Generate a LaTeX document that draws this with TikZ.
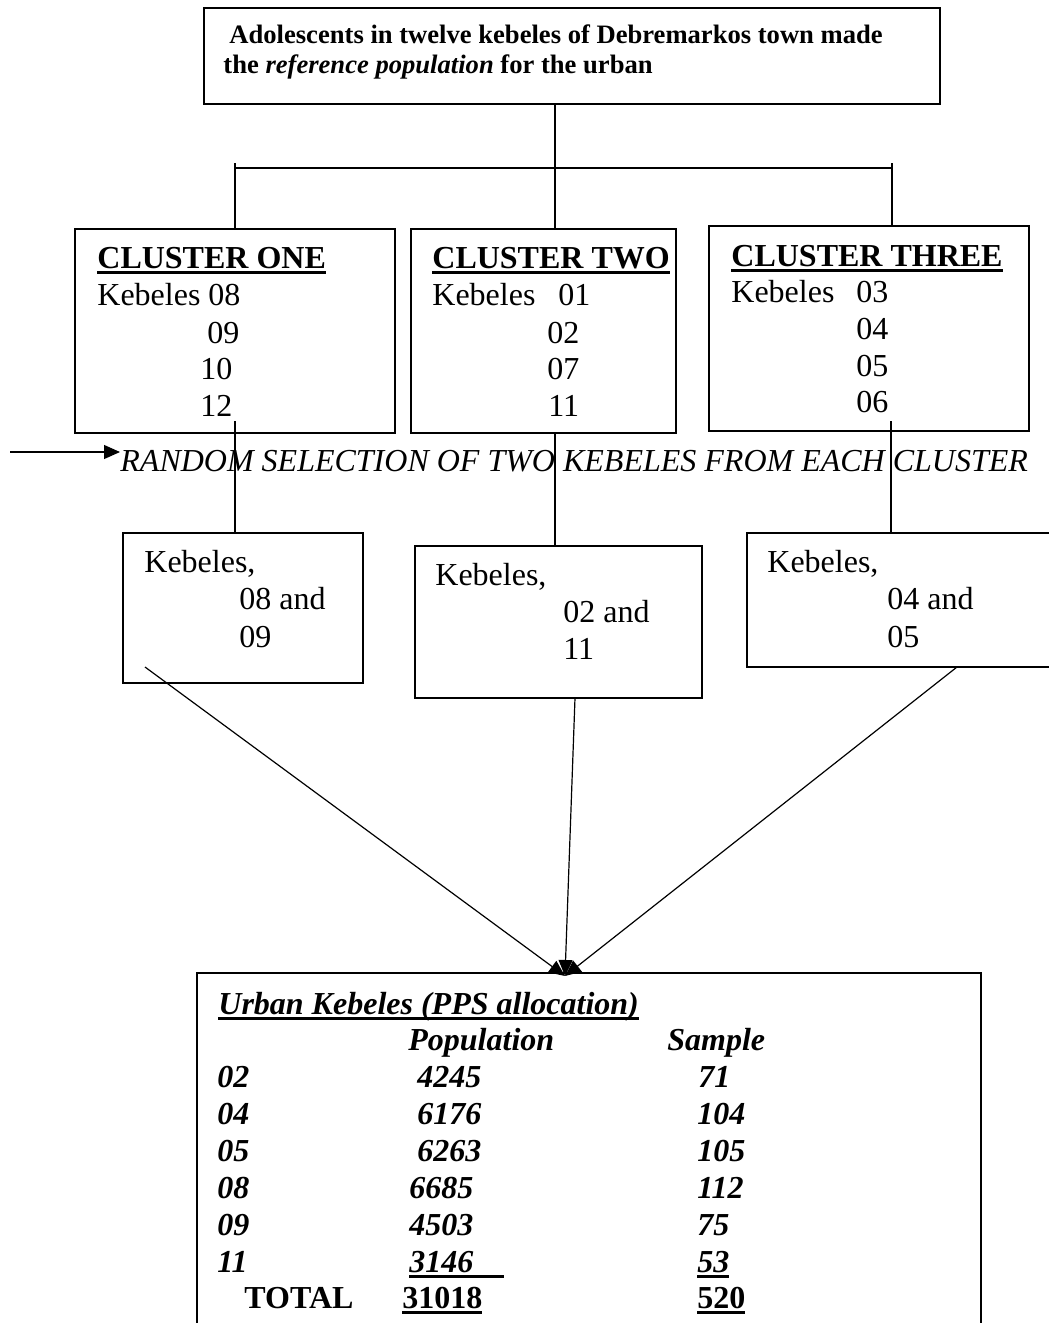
\documentclass[tikz,border=0pt]{standalone}
\usepackage{fontspec}
\setmainfont{Liberation Serif}
\usetikzlibrary{arrows.meta,positioning}
\newcommand{\uln}[2][0pt]{\setbox0\hbox{#2}\rlap{\vrule width \dimexpr\wd0+#1\relax height -1.5pt depth 3pt}\box0}

\begin{document}
\begin{tikzpicture}[x=0.5pt, y=-0.5pt]
    \tikzstyle{box}=[rectangle, draw=black, line width=0.7pt, inner sep=0pt]
    \tikzstyle{txt}=[anchor=base west, inner sep=0pt, font=\fontsize{16}{19}\selectfont]
    \tikzstyle{head}=[txt, font=\fontsize{16}{19}\selectfont\bfseries]
    \tikzstyle{cell}=[txt, font=\fontsize{16}{19}\selectfont\bfseries\itshape]
    \tikzstyle{line}=[line width=0.6pt]
    \tikzstyle{connect}=[-{Triangle[length=8pt, width=7pt]}, line width=0.6pt]
    \useasboundingbox (0,0) rectangle (1049,1323);
      % boxes
      \node[box, minimum width=368pt, minimum height=48pt] (top) at (572,56) {};
      \node[box, minimum width=160pt, minimum height=102pt] (c1) at (235,331) {};
      \node[box, minimum width=132.5pt, minimum height=102pt] (c2) at (543.5,331) {};
      \node[box, minimum width=160pt, minimum height=102.5pt] (c3) at (869,328.5) {};
      \node[box, minimum width=120pt, minimum height=75pt] (k1) at (243,608) {};
      \node[box, minimum width=143.5pt, minimum height=76pt] (k2) at (558.5,622) {};
      \node[box, minimum width=152pt, minimum height=67pt] (k3) at (899,600) {};
      \node[box, minimum width=392pt, minimum height=186pt] (alloc) at (589,1159) {};
      % top text
      \node[txt, font=\fontsize{13.3}{15}\selectfont\bfseries] (top1) at (229,43) {Adolescents in twelve kebeles of Debremarkos town made};
      \node[txt, font=\fontsize{13.3}{15}\selectfont\bfseries] (top2) at (223,73) {the \textit{reference population} for the urban};
      % clusters
      \node[head] (c1h) at (97,268) {\uln{CLUSTER ONE}};
      \node[txt] (c1a) at (97,305) {Kebeles 08};
      \node[txt] (c1b) at (207,343) {09};
      \node[txt] (c1c) at (200,379) {10};
      \node[txt] (c1d) at (200,416) {12};
      \node[head] (c2h) at (432,268) {\uln{CLUSTER TWO}};
      \node[txt] (c2a) at (432,305) {Kebeles\hspace{11.5pt}01};
      \node[txt] (c2b) at (547,343) {02};
      \node[txt] (c2c) at (547,379) {07};
      \node[txt] (c2d) at (548,416) {11};
      \node[head] (c3h) at (731,266) {\uln{CLUSTER THREE}};
      \node[txt] (c3a) at (731,302) {Kebeles\hspace{11pt}03};
      \node[txt] (c3b) at (856,339) {04};
      \node[txt] (c3c) at (856,376) {05};
      \node[txt] (c3d) at (856,412) {06};
      \node[txt, font=\fontsize{16}{19}\selectfont\itshape] (rnd) at (120,471) {RANDOM SELECTION OF TWO KEBELES FROM EACH CLUSTER};
      % selected kebeles
      \node[txt] (k1a) at (144,572) {Kebeles,};
      \node[txt] (k1b) at (239,609) {08 and};
      \node[txt] (k1c) at (239,647) {09};
      \node[txt] (k2a) at (435,585) {Kebeles,};
      \node[txt] (k2b) at (563,622) {02 and};
      \node[txt] (k2c) at (563,659) {11};
      \node[txt] (k3a) at (767,572) {Kebeles,};
      \node[txt] (k3b) at (887,609) {04 and};
      \node[txt] (k3c) at (887,647) {05};
      % allocation table
      \node[cell] (tt) at (218,1014) {\uln{Urban Kebeles (PPS allocation)}};
      \node[cell] (tp) at (408,1050) {Population};
      \node[cell] (ts) at (667,1050) {Sample};
      \node[cell] (r02) at (217,1087) {02};
      \node[cell] (p02) at (417,1087) {4245};
      \node[cell] (s02) at (698,1087) {71};
      \node[cell] (r04) at (217,1124) {04};
      \node[cell] (p04) at (417,1124) {6176};
      \node[cell] (s04) at (697,1124) {104};
      \node[cell] (r05) at (217,1161) {05};
      \node[cell] (p05) at (417,1161) {6263};
      \node[cell] (s05) at (697,1161) {105};
      \node[cell] (r08) at (217,1198) {08};
      \node[cell] (p08) at (409,1198) {6685};
      \node[cell] (s08) at (697,1198) {112};
      \node[cell] (r09) at (217,1235) {09};
      \node[cell] (p09) at (409,1235) {4503};
      \node[cell] (s09) at (697,1235) {75};
      \node[cell] (r11) at (217,1272) {11};
      \node[cell] (p11) at (409,1272) {\uln[15.5pt]{3146}};
      \node[cell] (s11) at (697,1272) {\uln{53}};
      \node[head] (tot) at (244,1308) {TOTAL};
      \node[head] (totp) at (402,1308) {\uln{31018}};
      \node[head] (tots) at (697,1308) {\uln{520}};
      % connectors
      \coordinate (hub) at (555,168);
      \coordinate (barL) at (235,168);
      \coordinate (barR) at (892,168);
      \coordinate (s1) at (235,421);
      \coordinate (s3) at (891,421);
      \coordinate (rs) at (10,452);
      \coordinate (a1) at (145,667);
      \coordinate (a2) at (575,698);
      \coordinate (a3) at (957,667);
      \coordinate (meet) at (565,976);
      \draw[line] (top.south -| hub) -- (hub);
      \draw[line, line width=1pt] (barL) -- (barR);
      \draw[line] ([yshift=2.5pt]barL) -- (c1.north -| barL);
      \draw[line] (hub) -- (c2.north -| hub);
      \draw[line] ([yshift=2.5pt]barR) -- (c3.north -| barR);
      \draw[line] (s1) -- (k1.north -| s1);
      \draw[line] (c2.south -| hub) -- (k2.north -| hub);
      \draw[line] (s3) -- (k3.north -| s3);
      \draw[connect] (rs) -- (rs -| rnd.west);
      \draw[connect] (a1) -- (meet);
      \draw[connect] (a2) -- (meet);
      \draw[connect] (a3) -- (meet);
\end{tikzpicture}
\end{document}
